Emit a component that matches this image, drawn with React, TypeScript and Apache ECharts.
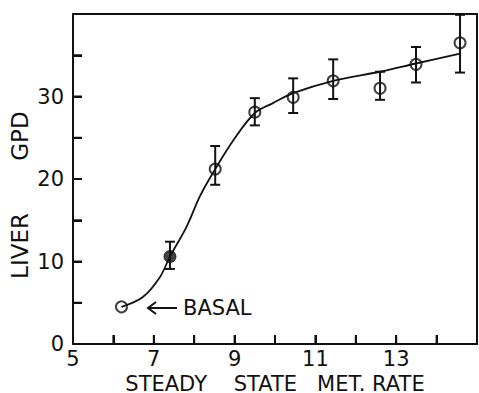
import React, { useEffect, useRef } from "react";
import * as echarts from "echarts";

// Open-circle means (x = steady state metabolic rate, y = liver GPD)
const openPoints: [number, number][] = [
  [6.2, 4.5],
  [8.52, 21.2],
  [9.5, 28.1],
  [10.45, 29.9],
  [11.44, 31.9],
  [12.6, 31.0],
  [13.49, 33.9],
  [14.58, 36.5],
];
// Filled-circle mean
const filledPoints: [number, number][] = [[7.4, 10.6]];
// Error bars: x, low, high
const errorBars: [number, number, number][] = [
  [7.4, 9.1, 12.4],
  [8.52, 19.3, 24.0],
  [9.5, 26.5, 29.8],
  [10.45, 28.0, 32.2],
  [11.44, 29.7, 34.5],
  [12.6, 29.6, 33.0],
  [13.49, 31.7, 36.0],
  [14.58, 32.9, 39.9],
];
// Fitted smooth curve
const curveX = [6.2, 6.73, 7.15, 7.4, 7.81, 8.14, 8.52, 8.97, 9.5, 9.95, 10.45, 11.44, 12.6, 13.49, 14.58];
const curveY = [4.5, 5.7, 8.1, 10.6, 14.2, 17.9, 21.2, 24.7, 28.0, 29.2, 30.4, 31.9, 33.0, 34.0, 35.2];

const xTickLabels = [5, 7, 9, 11, 13];
const yTickLabels = [0, 10, 20, 30];
// inward tick marks
const xTicks = [6, 7, 8, 9, 10, 11, 12, 13, 14];
const yTicks = [5, 10, 15, 20, 25, 30, 35];

const X_MIN = 5;
const X_MAX = 15;
const Y_MIN = 0;
const Y_MAX = 40;

const FONT = "DejaVu Sans";

export default function App() {
  const ref = useRef<HTMLDivElement>(null);
  useEffect(() => {
    document.body.style.margin = "0";
    const chart = echarts.init(ref.current!, null, { renderer: "svg" });
    const black = "#111";
    const axisLine = { show: true, onZero: false, lineStyle: { color: black, width: 2 } };
    const nativeTick = { show: true, inside: true, length: 9, lineStyle: { color: black, width: 2 } };
    const TL = 9;
    const staticGraphics: any[] = [
      {
        type: "text",
        x: 20,
        y: 246,
        rotation: Math.PI / 2,
        style: { text: "LIVER", fontFamily: FONT, fontSize: 23, fill: black, align: "center", verticalAlign: "middle" },
      },
      {
        type: "text",
        x: 20,
        y: 136,
        rotation: Math.PI / 2,
        style: { text: "GPD", fontFamily: FONT, fontSize: 23, fill: black, align: "center", verticalAlign: "middle" },
      },
      {
        type: "line",
        shape: { x1: 148, y1: 308, x2: 177, y2: 308 },
        style: { stroke: black, lineWidth: 2 },
      },
      {
        type: "polyline",
        shape: { points: [[156, 302], [148, 308], [156, 314]] },
        style: { stroke: black, lineWidth: 2, fill: "none" },
      },
      {
        type: "text",
        x: 183,
        y: 308,
        style: { text: "BASAL", fontFamily: FONT, fontSize: 21, fill: black, align: "left", verticalAlign: "middle" },
      },
    ];
    chart.setOption({
      animation: false,
      backgroundColor: "#fff",
      grid: {
        left: 73,
        right: 2,
        top: 14,
        bottom: 49,
        show: false,
        containLabel: false,
        outerBoundsMode: "none",
      },
      xAxis: [
        {
          type: "value",
          min: X_MIN,
          max: X_MAX,
          interval: 1,
          position: "bottom",
          name: "STEADY    STATE   MET. RATE",
          nameLocation: "middle",
          nameGap: 23,
          nameTextStyle: { fontFamily: FONT, fontSize: 21, lineHeight: 21, color: black },
          axisLine,
          axisTick: nativeTick,
          splitLine: { show: false },
          axisLabel: {
            fontFamily: FONT,
            fontSize: 21,
            color: black,
            margin: 4,
            formatter: (v: number) => (xTickLabels.includes(v) ? String(v) : ""),
          },
        },
        {
          type: "value",
          min: X_MIN,
          max: X_MAX,
          position: "top",
          axisLine,
          axisTick: { show: false },
          axisLabel: { show: false },
          splitLine: { show: false },
        },
      ],
      yAxis: [
        {
          type: "value",
          min: Y_MIN,
          max: Y_MAX,
          interval: 5,
          position: "left",
          axisLine,
          axisTick: nativeTick,
          splitLine: { show: false },
          axisLabel: {
            fontFamily: FONT,
            fontSize: 21,
            color: black,
            margin: 9,
            formatter: (v: number) => (yTickLabels.includes(v) ? String(v) : ""),
          },
        },
        {
          type: "value",
          min: Y_MIN,
          max: Y_MAX,
          position: "right",
          axisLine,
          axisTick: { show: false },
          axisLabel: { show: false },
          splitLine: { show: false },
        },
      ],
      graphic: staticGraphics,
      series: [
        {
          type: "line",
          data: curveX.map((x, i) => [x, curveY[i]]),
          smooth: 0.35,
          showSymbol: false,
          symbol: "none",
          lineStyle: { color: black, width: 1.8 },
          z: 2,
        },
        {
          type: "custom",
          data: errorBars,
          renderItem: (params: any, api: any) => {
            const x = api.value(0);
            const lo = api.coord([x, api.value(1)]);
            const hi = api.coord([x, api.value(2)]);
            const hw = 5;
            const style = { stroke: black, lineWidth: 2 };
            return {
              type: "group",
              children: [
                { type: "line", shape: { x1: lo[0], y1: lo[1], x2: hi[0], y2: hi[1] }, style },
                { type: "line", shape: { x1: lo[0] - hw, y1: lo[1], x2: lo[0] + hw, y2: lo[1] }, style },
                { type: "line", shape: { x1: hi[0] - hw, y1: hi[1], x2: hi[0] + hw, y2: hi[1] }, style },
              ],
            };
          },
          z: 3,
        },
        {
          type: "scatter",
          data: openPoints,
          symbol: "circle",
          symbolSize: 11,
          itemStyle: { color: "rgba(0,0,0,0)", borderColor: black, borderWidth: 2 },
          z: 4,
        },
        {
          type: "scatter",
          data: filledPoints,
          symbol: "circle",
          symbolSize: 12,
          itemStyle: { color: black, borderColor: black, borderWidth: 1 },
          z: 4,
        },
      ],
    });
    // inward ticks as small filled rects placed through the chart's own scales
    const finder = { seriesIndex: 0 };
    const tickGraphics: any[] = [];
    xTicks.forEach((t) => {
      const p = chart.convertToPixel(finder, [t, Y_MIN]) as number[];
      if (p && isFinite(p[0]) && isFinite(p[1])) {
        tickGraphics.push({
          type: "rect",
          z: 100,
          shape: { x: p[0] - 1, y: p[1] - TL, width: 2, height: TL },
          style: { fill: black },
        });
      }
    });
    yTicks.forEach((t) => {
      const p = chart.convertToPixel(finder, [X_MIN, t]) as number[];
      if (p && isFinite(p[0]) && isFinite(p[1])) {
        tickGraphics.push({
          type: "rect",
          z: 100,
          shape: { x: p[0], y: p[1] - 1, width: TL, height: 2 },
          style: { fill: black },
        });
      }
    });
    chart.setOption({ graphic: [...staticGraphics, ...tickGraphics] });
    return () => chart.dispose();
  }, []);
  return <div ref={ref} style={{ width: 479, height: 393 }} />;
}
